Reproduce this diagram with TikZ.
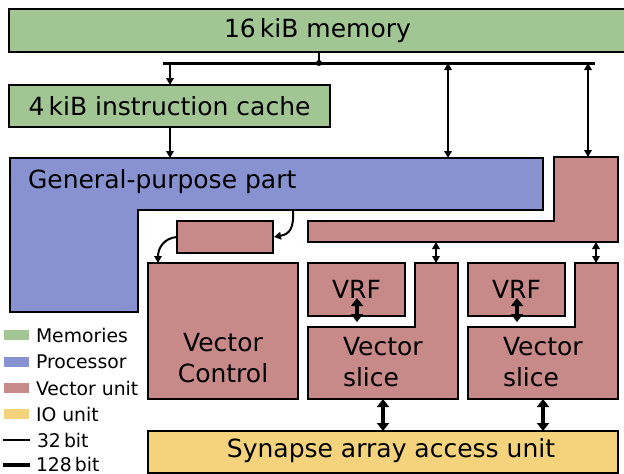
\documentclass[tikz,border=0pt]{standalone}
\usepackage{fontspec}
\setmainfont{DejaVu Sans}
\usetikzlibrary{arrows.meta}
\definecolor{memc}{RGB}{161,197,147}
\definecolor{procc}{RGB}{137,146,209}
\definecolor{vecc}{RGB}{200,137,137}
\definecolor{ioc}{RGB}{244,211,124}
\begin{document}
\begin{tikzpicture}[x=1pt,y=-1pt,
  every node/.style={inner sep=0pt, outer sep=0pt},
  blk/.style={draw=black, line width=2pt, anchor=north west},
  poly/.style={draw=black, line width=2pt},
  main/.style={font=\fontsize{25}{31}\selectfont},
  leg/.style={font=\fontsize{18.8}{22}\selectfont, anchor=west},
  w32/.style={line width=2pt},
  w128/.style={line width=4.5pt},
  a32/.style={w32, -{Triangle[length=7pt,width=7.5pt]}},
  b32/.style={w32, {Triangle[length=7pt,width=7.5pt]}-{Triangle[length=7pt,width=7.5pt]}},
  b128/.style={w128, {Triangle[length=8pt,width=12pt]}-{Triangle[length=8pt,width=12pt]}},
  swatch/.style={minimum width=25pt, minimum height=10pt, anchor=west}
]
\useasboundingbox (0,0) rectangle (624,474);

% memories
\node[blk, fill=memc, main, minimum width=617pt, minimum height=43pt] (mem) at (9,9) {16\,kiB memory};
\node[blk, fill=memc, main, minimum width=321pt, minimum height=42pt] (cache) at (9,85) {4\,kiB instruction cache};

% general-purpose part (L shape)
\draw[poly, fill=procc] (10,158) coordinate (gpTL) -- (543,158) coordinate (gpTR) -- (543,210) -- (138,210) -- (138,312) -- (10,312) -- cycle;
\node[main, anchor=west] (gptext) at (28,182) {General-purpose part};
\coordinate (gpOut) at (293,210);

% vector unit bus (inverted L shape)
\draw[poly, fill=vecc] (308,221) -- (554,221) -- (554,157) coordinate (vuTL) -- (618,157) -- (618,242) -- (308,242) coordinate (vuBL) -- cycle;

% small vector box and vector control
\node[blk, fill=vecc, minimum width=96pt, minimum height=32pt] (small) at (177,221) {};
\node[blk, fill=vecc, minimum width=150pt, minimum height=136pt] (vctrl) at (148,263) {};
\node[main, align=center] (vctrltext) at (223,358) {Vector\\Control};

% vector slices
\foreach \dx/\n in {0/1,160/2}{
  \draw[poly, fill=vecc] (308+\dx,327) -- (415+\dx,327) -- (415+\dx,263) coordinate (sl\n top) -- (458+\dx,263) -- (458+\dx,399) -- (308+\dx,399) -- cycle;
  \node[blk, fill=vecc, main, minimum width=97pt, minimum height=53pt] (vrf\n) at (308+\dx,263) {VRF};
  \node[main, align=left, anchor=west] (sl\n text) at (343+\dx,362) {Vector\\slice};
}

% synapse array access unit
\node[blk, fill=ioc, minimum width=470pt, minimum height=42pt] (syn) at (148,431) {};
\node[main] (syntext) at (391,451) {Synapse array access unit};

% bus
\coordinate (busL) at (163,63);
\coordinate (busR) at (595,63);
\coordinate (busJ) at (319,63);
\draw[line width=3pt] (busL) -- (busR);
\draw[w32] (mem.south -| busJ) -- (busJ);
\fill (busJ) circle (3pt);

% connectors from the bus
\draw[a32] (busL -| 170,0) -- (cache.north -| 170,0);
\draw[a32] (cache.south -| 170,0) -- (gpTL -| 170,0);
\draw[b32] (busL -| 448,0) -- (gpTR -| 448,0);
\draw[b32] (busL -| 588,0) -- (vuTL -| 588,0);

% curved connectors
\draw[a32] (gpOut) .. controls (294,228) and (290,234) .. ([xshift=1pt]small.east);
\draw[a32] (small.west) .. controls (164,238) and (158,248) .. (vctrl.north -| 158,0);

% vector unit to slices
\draw[b32] (vuBL -| 436,0) -- (sl1top -| 436,0);
\draw[b32] (vuBL -| 596,0) -- (sl2top -| 596,0);

% VRF <-> slice
\draw[b128] ([yshift=-6pt]vrf1.south -| 357,0) -- ([yshift=18pt]vrf1.south -| 357,0);
\draw[b128] ([yshift=-6pt]vrf2.south -| 517,0) -- ([yshift=18pt]vrf2.south -| 517,0);

% slice <-> synapse
\draw[b128] (syn.north -| 383,0) ++(0,-32) -- (syn.north -| 383,0);
\draw[b128] (syn.north -| 543,0) ++(0,-32) -- (syn.north -| 543,0);

% legend
\node[swatch, fill=memc] (lg1) at (4,335) {};
\node[leg] (lt1) at (36,335) {Memories};
\node[swatch, fill=procc] (lg2) at (4,362) {};
\node[leg] (lt2) at (36,362) {Processor};
\node[swatch, fill=vecc] (lg3) at (4,388) {};
\node[leg] (lt3) at (36,388) {Vector unit};
\node[swatch, fill=ioc] (lg4) at (4,414) {};
\node[leg] (lt4) at (36,414) {IO unit};
\coordinate (l5a) at (3,440);
\coordinate (l5b) at (30,440);
\draw[w32] (l5a) -- (l5b);
\node[leg] (lt5) at (37,440) {32\,bit};
\coordinate (l6a) at (3,465);
\coordinate (l6b) at (30,465);
\draw[w128] (l6a) -- (l6b);
\node[leg] (lt6) at (36,464) {128\,bit};
\end{tikzpicture}
\end{document}
